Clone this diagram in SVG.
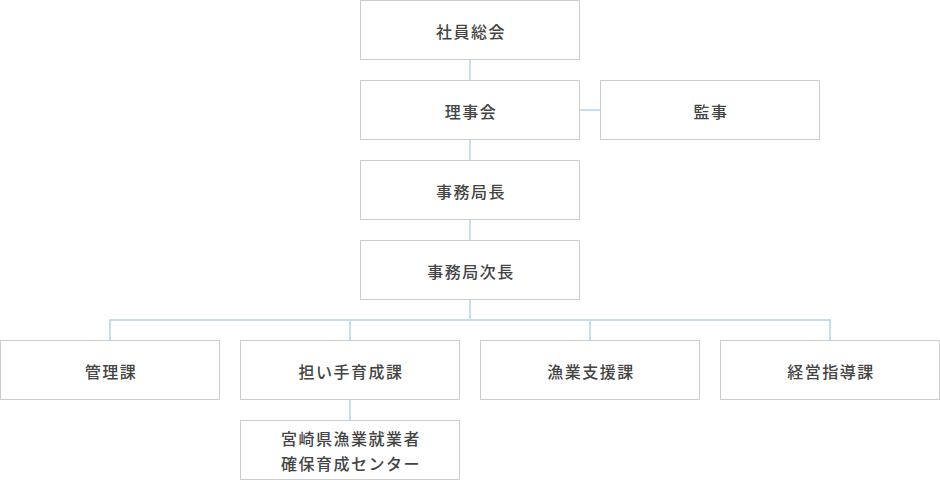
<svg xmlns="http://www.w3.org/2000/svg" width="940" height="480" viewBox="0 0 940 480">
<style>
.box rect{fill:#fff;stroke:#cccccc;stroke-width:1}
.box text{font-family:"Noto Sans CJK JP","Noto Sans",sans-serif;font-size:16px;font-weight:500;fill:#444444;text-anchor:middle;dominant-baseline:central;letter-spacing:1.5px}
.conn{stroke:#c3ddf3;stroke-width:2;fill:none}
</style>
<rect width="940" height="480" fill="#fff"/>
<g id="connectors" class="conn">
<line x1="470" y1="60" x2="470" y2="80"/>
<line x1="470" y1="140" x2="470" y2="160"/>
<line x1="470" y1="220" x2="470" y2="240"/>
<line x1="580" y1="110" x2="600" y2="110"/>
<line x1="470" y1="300" x2="470" y2="320"/>
<path d="M110 340V320H830V340M350 320V340M590 320V340"/>
<line x1="350" y1="400" x2="350" y2="420"/>
</g>
<g id="n1" class="box"><rect x="360.5" y="0.5" width="219" height="59"/><text x="471" y="30.5">社員総会</text></g>
<g id="n2" class="box"><rect x="360.5" y="80.5" width="219" height="59"/><text x="471" y="110.5">理事会</text></g>
<g id="n3" class="box"><rect x="600.5" y="80.5" width="219" height="59"/><text x="711" y="110.5">監事</text></g>
<g id="n4" class="box"><rect x="360.5" y="160.5" width="219" height="59"/><text x="471" y="190.5">事務局長</text></g>
<g id="n5" class="box"><rect x="360.5" y="240.5" width="219" height="59"/><text x="471" y="270.5">事務局次長</text></g>
<g id="n6" class="box"><rect x="0.5" y="340.5" width="219" height="59"/><text x="111" y="370.5">管理課</text></g>
<g id="n7" class="box"><rect x="240.5" y="340.5" width="219" height="59"/><text x="351" y="370.5">担い手育成課</text></g>
<g id="n8" class="box"><rect x="480.5" y="340.5" width="219" height="59"/><text x="591" y="370.5">漁業支援課</text></g>
<g id="n9" class="box"><rect x="720.5" y="340.5" width="219" height="59"/><text x="831" y="370.5">経営指導課</text></g>
<g id="n10" class="box"><rect x="240.5" y="420.5" width="219" height="59"/><text x="351" y="437.5">宮崎県漁業就業者</text><text x="351" y="462.5">確保育成センター</text></g>
</svg>
